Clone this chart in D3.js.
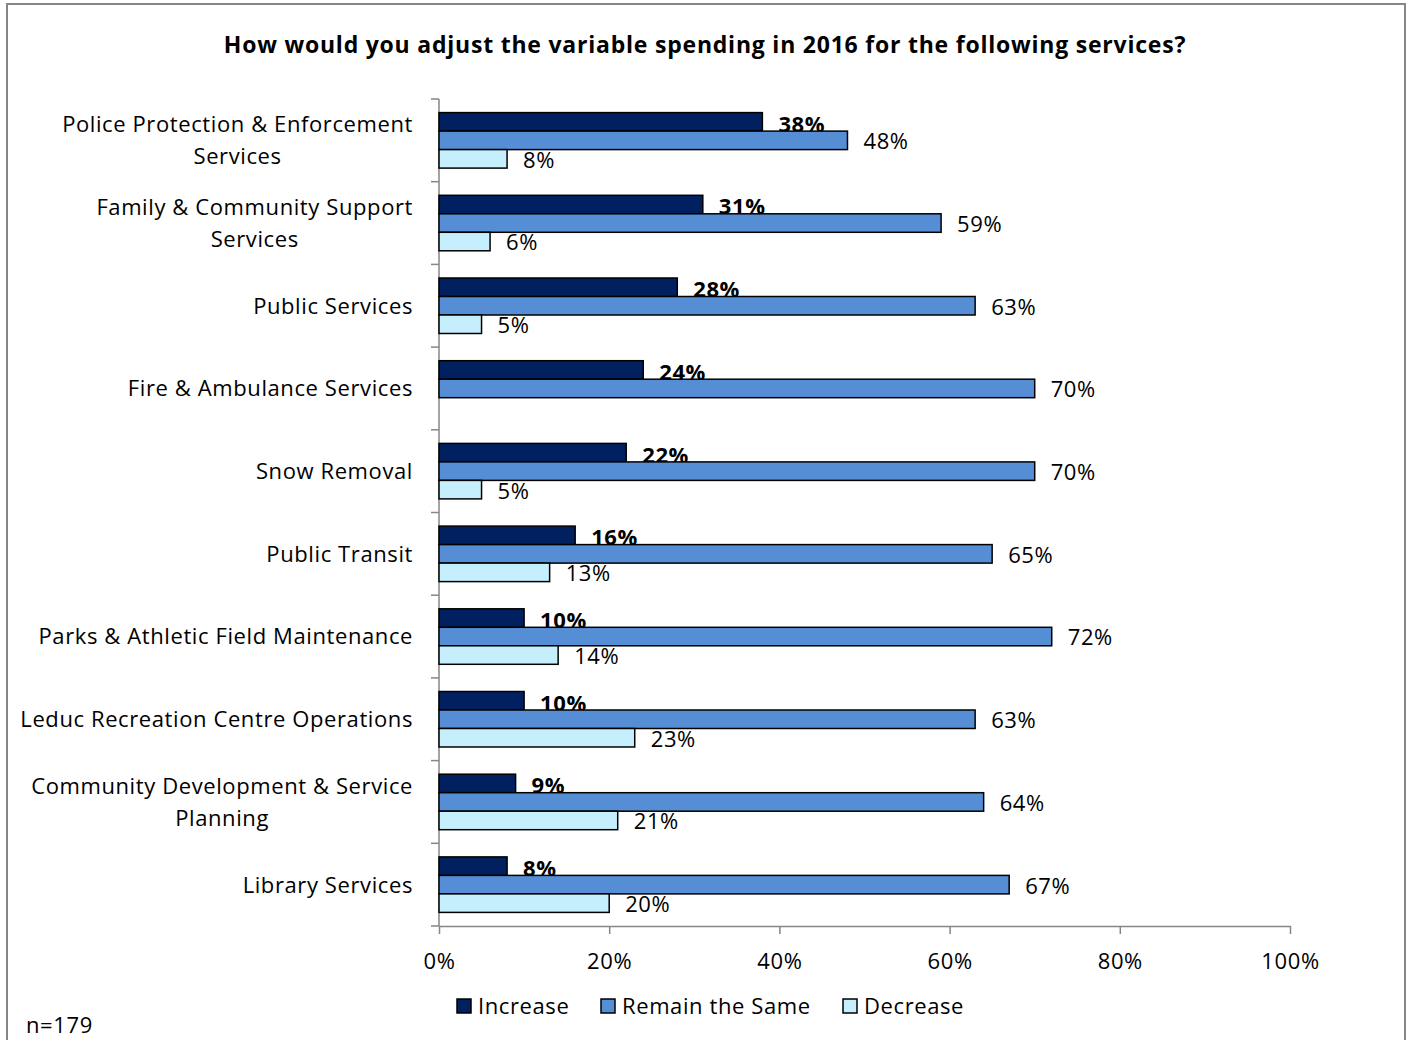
<!DOCTYPE html>
<html>
<head>
<meta charset="utf-8">
<script src="https://cdn.jsdelivr.net/npm/d3@7"></script>
<style>
  html, body { margin: 0; padding: 0; background: #fff; }
  svg { display: block; }
  text { font-family: "Open Sans", "Liberation Sans", sans-serif; fill: #000; letter-spacing: 0.6px; }
</style>
</head>
<body>
<svg id="chart" width="1411" height="1040"></svg>
<script>
// Survey responses (percent of respondents), n = 179
const categories = [
  "Police Protection & Enforcement\nServices",
  "Family & Community Support\nServices",
  "Public Services",
  "Fire & Ambulance Services",
  "Snow Removal",
  "Public Transit",
  "Parks & Athletic Field Maintenance",
  "Leduc Recreation Centre Operations",
  "Community Development & Service\nPlanning",
  "Library Services"
];
const seriesNames = ["Increase", "Remain the Same", "Decrease"];
const increase = [38, 31, 28, 24, 22, 16, 10, 10, 9, 8];
const remain   = [48, 59, 63, 70, 70, 65, 72, 63, 64, 67];
const decrease = [8, 6, 5, null, 5, 13, 14, 23, 21, 20];
const xTicks = [0, 20, 40, 60, 80, 100];
const titleText = "How would you adjust the variable spending in 2016 for the following services?";
const noteText = "n=179";

const seriesValues = [increase, remain, decrease];
const colors = ["#002060", "#558ED5", "#C6EFFE"];

const svg = d3.select("#chart");
const FS = 22;

// outer frame
svg.append("rect")
  .attr("x", 7).attr("y", 4)
  .attr("width", 1398).attr("height", 1060)
  .attr("fill", "none").attr("stroke", "#868686").attr("stroke-width", 2);

// title
svg.append("text")
  .attr("x", 705).attr("y", 45).attr("dy", "0.36em")
  .attr("text-anchor", "middle")
  .style("font-size", "23px").style("font-weight", "bold")
  .style("letter-spacing", "0.78px")
  .text(titleText);

const plot = { left: 439, right: 1290, top: 99, bottom: 926 };

const x = d3.scaleLinear().domain([0, 100]).range([plot.left, plot.right]);

const pad = 0.329;
const y0 = d3.scaleBand().domain(categories)
  .range([plot.top, plot.bottom])
  .paddingInner(pad).paddingOuter(pad / 2);
const y1 = d3.scaleBand().domain(seriesNames).range([0, y0.bandwidth()]);

// x axis
const xAxis = svg.append("g")
  .attr("transform", `translate(0,${plot.bottom})`)
  .call(d3.axisBottom(x).tickValues(xTicks).tickFormat(d => d + "%")
    .tickSize(8).tickSizeOuter(0).tickPadding(19));
xAxis.select(".domain").attr("stroke", "#868686").attr("stroke-width", 1.5);
xAxis.selectAll(".tick line").attr("stroke", "#868686").attr("stroke-width", 1.5);
xAxis.selectAll(".tick text").style("font-size", FS + "px")
  .style("font-family", "\"Open Sans\", sans-serif").attr("fill", "#000");

// y axis line and category boundary ticks
const yAxis = svg.append("g");
yAxis.append("line")
  .attr("x1", plot.left).attr("x2", plot.left)
  .attr("y1", plot.top).attr("y2", plot.bottom)
  .attr("stroke", "#868686").attr("stroke-width", 1.5);
const step = y0.step();
const bounds = categories.map(c => y0(c) - y0.paddingOuter() * step).concat([plot.bottom]);
yAxis.selectAll("line.tk").data(bounds).join("line")
  .attr("class", "tk")
  .attr("x1", plot.left - 8).attr("x2", plot.left)
  .attr("y1", d => d).attr("y2", d => d)
  .attr("stroke", "#868686").attr("stroke-width", 1.5);

// category labels, right aligned block, lines centred to each other
const lineH = 32;
categories.forEach(c => {
  const lines = c.split("\n");
  const cy = y0(c) + y0.bandwidth() / 2;
  const g = svg.append("g");
  const t = g.append("text").style("font-size", FS + "px").attr("text-anchor", "middle");
  lines.forEach((ln, i) => {
    t.append("tspan")
      .attr("x", 0)
      .attr("y", cy + (i - (lines.length - 1) / 2) * lineH)
      .attr("dy", "0.36em")
      .text(ln);
  });
  const w = t.node().getBBox().width;
  t.attr("transform", `translate(${413 - w / 2},0)`);
});

// bars and value labels, one series at a time
seriesNames.forEach((s, si) => {
  const vals = seriesValues[si];
  const rows = categories.map((c, i) => ({ c, v: vals[i] })).filter(d => d.v != null);
  const g = svg.append("g");
  g.selectAll("rect").data(rows).join("rect")
    .attr("x", x(0))
    .attr("y", d => y0(d.c) + y1(s))
    .attr("width", d => x(d.v) - x(0))
    .attr("height", y1.bandwidth())
    .attr("fill", colors[si])
    .attr("stroke", "#000").attr("stroke-width", 1.5);
  g.selectAll("text").data(rows).join("text")
    .attr("x", d => x(d.v) + 16)
    .attr("y", d => y0(d.c) + y1(s) + y1.bandwidth() / 2 + (si === 0 ? 2 : 1))
    .attr("dy", "0.36em")
    .style("font-size", FS + "px")
    .style("font-weight", si === 0 ? "bold" : "normal")
    .text(d => d.v + "%");
});

// legend
const legendItems = [
  { name: seriesNames[0], x: 457 },
  { name: seriesNames[1], x: 601 },
  { name: seriesNames[2], x: 843 }
];
const lg = svg.append("g");
legendItems.forEach((it, i) => {
  lg.append("rect")
    .attr("x", it.x).attr("y", 999).attr("width", 14).attr("height", 14)
    .attr("fill", colors[i]).attr("stroke", "#000").attr("stroke-width", 1.5);
  lg.append("text")
    .attr("x", it.x + 21).attr("y", 1006).attr("dy", "0.36em")
    .style("font-size", FS + "px").text(it.name);
});

// sample size note
svg.append("text").attr("x", 26).attr("y", 1025).attr("dy", "0.36em")
  .style("font-size", FS + "px").text(noteText);
</script>
</body>
</html>
